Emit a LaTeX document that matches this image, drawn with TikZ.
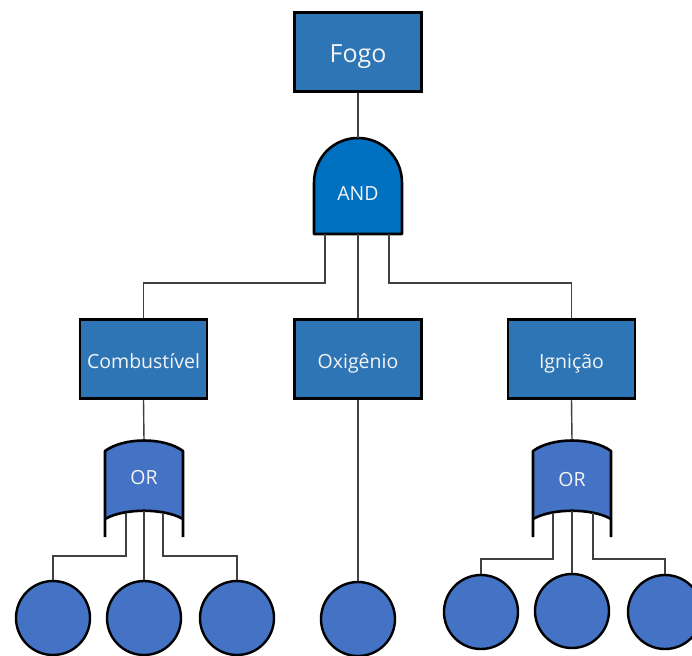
\documentclass[tikz,border=0pt]{standalone}
\usepackage{fontspec}
\setmainfont{Open Sans}
\definecolor{boxblue}{HTML}{2E75B6}
\definecolor{andblue}{HTML}{0070C0}
\definecolor{gateblue}{HTML}{4472C4}
\definecolor{wiregray}{HTML}{404040}
\definecolor{labelwhite}{HTML}{F4F4F4}
\begin{document}
\begin{tikzpicture}[x=1pt,y=-1pt,
  event/.style={draw=black, line width=2.6pt, fill=boxblue, minimum width=127pt,
    minimum height=79pt, inner sep=0pt, text=labelwhite,
    text height=19pt, text depth=0pt,
    font=\fontsize{19.5}{22}\selectfont},
  topevent/.style={event, text height=22pt, font=\fontsize{25}{28}\selectfont},
  basic/.style={circle, draw=black, line width=2.4pt, fill=gateblue,
    minimum size=74pt, inner sep=0pt},
  gatelabel/.style={inner sep=0pt, text=labelwhite, font=\fontsize{19.5}{22}\selectfont},
  andshape/.style={draw=black, line width=2.6pt, fill=andblue, line join=round},
  orfill/.style={fill=gateblue},
  orline/.style={draw=black, line width=2.6pt, line join=round},
  wire/.style={draw=wiregray, line width=1.4pt}]
\useasboundingbox (0,0) rectangle (692,655);
\clip (0,0) rectangle (692,655);

% top event
\node[topevent] (fogo) at (358,52) {Fogo};

% AND gate
\path[andshape] (314,234) -- (314,183)
  .. controls (314,157) and (334,138) .. (358,138)
  .. controls (382,138) and (402,157) .. (402,183) -- (402,234) -- cycle;
\node[gatelabel] (and) at (358,194) {AND};
\coordinate (and-in) at (358,138);
\coordinate (and-o1) at (325,234);
\coordinate (and-o2) at (358,234);
\coordinate (and-o3) at (389,234);

% intermediate events
\node[event] (comb) at (143.5,359) {Combustível};
\node[event] (oxi) at (358,359) {Oxigênio};
\node[event] (ign) at (571.5,359) {Ignição};

% OR gates
\begin{scope}[shift={(144,0)}]
  \path[orfill] (-39,451) .. controls (-20,437) and (20,437) .. (39,451)
    -- (39,519) .. controls (20,508) and (-20,508) .. (-39,519) -- cycle;
  \path[orline] (-39,537) -- (-39,451) .. controls (-20,437) and (20,437) .. (39,451) -- (39,537);
  \path[orline] (39,519) .. controls (20,508) and (-20,508) .. (-39,519);
  \node[gatelabel] (orL) at (0,478) {OR};
  \coordinate (orL-in) at (0,440);
  \coordinate (orL-o1) at (-18,513);
  \coordinate (orL-o2) at (0,511);
  \coordinate (orL-o3) at (19,513);
\end{scope}
\begin{scope}[shift={(572,0)}]
  \path[orfill] (-39,451) .. controls (-20,437) and (20,437) .. (39,451)
    -- (39,519) .. controls (20,508) and (-20,508) .. (-39,519) -- cycle;
  \path[orline] (-39,537) -- (-39,451) .. controls (-20,437) and (20,437) .. (39,451) -- (39,537);
  \path[orline] (39,519) .. controls (20,508) and (-20,508) .. (-39,519);
  \node[gatelabel] (orR) at (0,480) {OR};
  \coordinate (orR-in) at (0,440);
  \coordinate (orR-o1) at (-19,513);
  \coordinate (orR-o2) at (0,511);
  \coordinate (orR-o3) at (21,513);
\end{scope}

% basic events
\node[basic] (e1) at (53,618) {};
\node[basic] (e2) at (144,618) {};
\node[basic] (e3) at (237,618) {};
\node[basic] (e4) at (358,619) {};
\node[basic] (e5) at (481,612) {};
\node[basic] (e6) at (572,611) {};
\node[basic] (e7) at (665,612) {};

% connectors
\draw[wire] (fogo.south) -- (and-in);
\draw[wire] (and-o1) -- ++(0,49) -| (comb.north);
\draw[wire] (and-o2) -- (oxi.north);
\draw[wire] (and-o3) -- ++(0,49) -| (ign.north);
\draw[wire] (comb.south) -- (orL-in);
\draw[wire] (oxi.south) -- (e4.north);
\draw[wire] (ign.south) -- (orR-in);
\draw[wire] (orL-o1) -- ++(0,43) -| (e1.north);
\draw[wire] (orL-o2) -- (e2.north);
\draw[wire] (orL-o3) -- ++(0,43) -| (e3.north);
\draw[wire] (orR-o1) -- ++(0,46) -| (e5.north);
\draw[wire] (orR-o2) -- (e6.north);
\draw[wire] (orR-o3) -- ++(0,46) -| (e7.north);
\end{tikzpicture}
\end{document}
